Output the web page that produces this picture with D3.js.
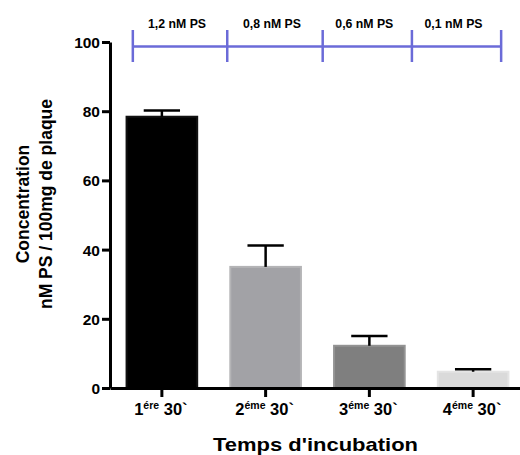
<!DOCTYPE html>
<html><head><meta charset="utf-8">
<script src="https://cdn.jsdelivr.net/npm/d3@7"></script>
<style>
body{margin:0;background:#fff;}
text{font-family:"Liberation Sans",Arial,sans-serif;font-weight:bold;fill:#000;}
</style></head>
<body><svg id="c" width="520" height="455"></svg>
<script>
const categories = ["1", "2", "3", "4"];
const superscripts = ["ére", "éme", "éme", "éme"];
const values = [78.4, 35.0, 12.2, 4.7];
const errors = [1.8, 6.2, 2.8, 0.7];
const yTicks = [0, 20, 40, 60, 80, 100];
const concLabels = ["1,2 nM PS", "0,8 nM PS", "0,6 nM PS", "0,1 nM PS"];
const concBounds = [-0.28, 0.63, 1.55, 2.41, 3.27];
const fills = ["#000000", "#a2a2a6", "#7f7f7f", "#dadada"];
const strokes = ["#111111", "#b4b4b6", "#939393", "#e4e4e4"];

const svg = d3.select("#c");
const x = d3.scaleBand().domain(categories).range([110, 525]).paddingInner(0.3).paddingOuter(0.15);
const y = d3.scaleLinear().domain([0, 100]).range([388, 42]);
const xi = d3.scaleLinear().domain([-0.5, categories.length - 0.5]).range(x.range());

// bars
const bw = x.bandwidth();
svg.selectAll("rect.bar").data(values).join("rect")
  .attr("x", (d, i) => x(categories[i]) + 1)
  .attr("y", d => y(d))
  .attr("width", bw - 2)
  .attr("height", d => y(0) - y(d))
  .attr("fill", (d, i) => fills[i])
  .attr("stroke", (d, i) => strokes[i])
  .attr("stroke-width", 2);

// error bars
const eb = svg.append("g").attr("stroke", "#000").attr("stroke-width", 2.5);
values.forEach((v, i) => {
  const cx = x(categories[i]) + bw / 2;
  eb.append("line").attr("x1", cx).attr("x2", cx).attr("y1", y(v)).attr("y2", y(v + errors[i]));
  eb.append("line").attr("x1", cx - bw / 4).attr("x2", cx + bw / 4).attr("y1", y(v + errors[i])).attr("y2", y(v + errors[i]));
});

// y axis
const ya = svg.append("g").attr("transform", "translate(110,0)")
  .call(d3.axisLeft(y).tickValues(yTicks).tickSize(8).tickPadding(2).tickSizeOuter(0));
ya.select(".domain").attr("stroke", "#000").attr("stroke-width", 3);
ya.selectAll(".tick line").attr("stroke", "#000").attr("stroke-width", 3);
ya.selectAll(".tick text").style("font-size", "15.5px").attr("dy", "0.36em");

// x axis
const xa = svg.append("g").attr("transform", "translate(0,388)")
  .call(d3.axisBottom(x).tickSize(9).tickSizeOuter(0).tickFormat(""));
xa.select(".domain").attr("stroke", "#000").attr("stroke-width", 3);
xa.selectAll(".tick line").attr("stroke", "#000").attr("stroke-width", 3);

// x labels
categories.forEach((c, i) => {
  const t = svg.append("text").attr("x", x(c) + bw / 2 - 1).attr("y", 414.5)
    .attr("text-anchor", "middle").style("font-size", "16.5px");
  t.append("tspan").text(c);
  t.append("tspan").attr("dy", -6).style("font-size", "10.5px").text(superscripts[i]);
  t.append("tspan").attr("dy", 6).text(" 30`");
});

// titles
svg.append("text").attr("x", 315.5).attr("y", 451).attr("text-anchor", "middle")
  .attr("textLength", 205).attr("lengthAdjust", "spacingAndGlyphs")
  .style("font-size", "19px").text("Temps d'incubation");
const yt = svg.append("text").attr("transform", "translate(29,204) rotate(-90)")
  .attr("text-anchor", "middle").style("font-size", "17.5px");
yt.append("tspan").attr("x", 0).attr("y", 0).text("Concentration");
yt.append("tspan").attr("x", 0).attr("y", 23).text("nM PS / 100mg de plaque");

// top bracket
const blue = "#6b6bd8";
const bg = svg.append("g").attr("stroke", blue).attr("stroke-width", 2.5);
bg.append("line").attr("x1", xi(concBounds[0])).attr("x2", xi(concBounds[concBounds.length - 1]))
  .attr("y1", 46.5).attr("y2", 46.5);
concBounds.forEach(b => {
  bg.append("line").attr("x1", xi(b)).attr("x2", xi(b)).attr("y1", 30).attr("y2", 62);
});
concLabels.forEach((l, i) => {
  svg.append("text").attr("x", (xi(concBounds[i]) + xi(concBounds[i + 1])) / 2 - 3).attr("y", 27.5)
    .attr("text-anchor", "middle").attr("textLength", 58).attr("lengthAdjust", "spacingAndGlyphs")
    .style("font-size", "12.5px").text(l);
});
</script></body></html>
